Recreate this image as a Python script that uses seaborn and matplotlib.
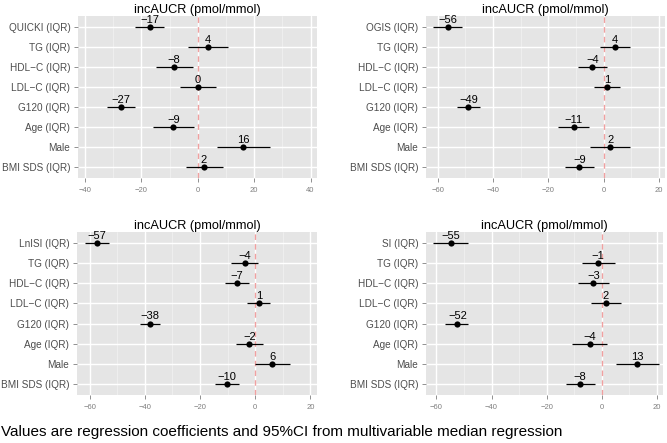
import numpy as np
import pandas as pd
import matplotlib
matplotlib.use('Agg')
import matplotlib.pyplot as plt
import seaborn as sns

# rows, top to bottom
rows_common = ['TG (IQR)', 'HDL\u2212C (IQR)', 'LDL\u2212C (IQR)', 'G120 (IQR)',
               'Age (IQR)', 'Male', 'BMI SDS (IQR)']
first_rows = ['QUICKI (IQR)', 'OGIS (IQR)', 'LnISI (IQR)', 'SI (IQR)']

est_quicki = [-17.1, 3.6, -8.4, 0.0, -27.3, -8.7, 16.0, 2.2]
lo_quicki = [-22.3, -3.3, -14.8, -6.3, -32.2, -15.8, 6.7, -4.3]
hi_quicki = [-11.9, 10.6, -1.8, 6.4, -22.4, -1.5, 25.6, 9.0]

est_ogis = [-56.4, 4.1, -4.1, 1.2, -48.9, -10.9, 2.3, -8.8]
lo_ogis = [-61.8, -1.4, -9.2, -3.4, -53.0, -16.5, -5.0, -14.0]
hi_ogis = [-51.1, 9.4, 1.3, 5.8, -44.7, -5.4, 9.4, -3.7]

est_lnisi = [-57.3, -3.8, -6.6, 1.3, -38.2, -2.1, 6.1, -10.2]
lo_lnisi = [-61.7, -8.6, -10.9, -3.0, -41.8, -7.1, -0.2, -14.6]
hi_lnisi = [-53.0, 1.0, -2.1, 5.5, -34.6, 3.0, 12.7, -5.7]

est_si = [-54.7, -1.3, -3.0, 1.6, -52.4, -4.4, 13.0, -7.8]
lo_si = [-61.1, -7.3, -8.4, -3.8, -56.9, -10.8, 5.4, -13.1]
hi_si = [-48.4, 4.9, 2.6, 7.1, -48.4, 2.0, 21.0, -2.5]

panels = [
    (first_rows[0], est_quicki, lo_quicki, hi_quicki, [-40, -20, 0, 20, 40], (-42.5, 42.3)),
    (first_rows[1], est_ogis, lo_ogis, hi_ogis, [-60, -40, -20, 0, 20], (-64.2, 22.1)),
    (first_rows[2], est_lnisi, lo_lnisi, hi_lnisi, [-60, -40, -20, 0, 20], (-64.6, 22.4)),
    (first_rows[3], est_si, lo_si, hi_si, [-60, -40, -20, 0, 20], (-63.8, 22.3)),
]
title = 'incAUCR (pmol/mmol)'
footnote = 'Values are regression coefficients and 95%CI from multivariable median regression'

sns.set_theme(style='white')
plt.rcParams['font.family'] = ['Liberation Sans', 'DejaVu Sans']

fig = plt.figure(figsize=(6.67, 4.43), dpi=100)
W, H = 667, 443
boxes = [(78, 16, 239, 162), (426, 16, 239, 162), (77, 232, 240, 163), (426, 232, 237, 163)]

for (first, est, lo, hi, ticks, xlim), (x0, y0, w, h) in zip(panels, boxes):
    ax = fig.add_axes([x0 / W, 1 - (y0 + h) / H, w / W, h / H])
    df = pd.DataFrame({'label': [first] + rows_common, 'est': est, 'lo': lo, 'hi': hi})
    ypos = np.arange(len(df))
    ax.set_facecolor('#E5E5E5')
    # minor and major vertical grid
    for t in np.arange(ticks[0] - 10, ticks[-1] + 11, 20):
        ax.axvline(t, color='#F2F2F2', lw=0.5, zorder=0)
    for t in ticks:
        ax.axvline(t, color='white', lw=1.0, zorder=0)
    for y in ypos:
        ax.axhline(y, color='white', lw=1.0, zorder=0)
    ax.axvline(0, color='#F0A0A0', lw=1.0, ls=(0, (4, 3)), zorder=1)
    ax.hlines(ypos, df['lo'], df['hi'], color='black', lw=0.9, zorder=2)
    sns.scatterplot(data=df, x='est', y=ypos, color='black', s=20, edgecolor='black',
                    linewidth=0, zorder=3, ax=ax, legend=False)
    for y, v in zip(ypos, df['est']):
        ax.annotate(str(int(round(v))).replace('-', '\u2212'), (v, y),
                    xytext=(0, 1.5), textcoords='offset points',
                    ha='center', va='bottom', fontsize=8, color='black', zorder=4)
    ax.set_xlim(*xlim)
    ax.set_ylim(len(df) - 0.45, -0.55)
    ax.set_xticks(ticks)
    ax.set_xticklabels([str(t).replace('-', '\u2212') for t in ticks])
    ax.set_yticks(ypos)
    ax.set_yticklabels(df['label'])
    ax.tick_params(axis='x', labelsize=5.5, colors='#7F7F7F', labelcolor='#7F7F7F',
                   length=3, width=0.6, pad=3.5, direction='out', bottom=True)
    ax.tick_params(axis='y', labelsize=7.2, colors='#7F7F7F', labelcolor='#4D4D4D',
                   length=3, width=0.6, pad=2.5, direction='out', left=True)
    for s in ax.spines.values():
        s.set_visible(False)
    ax.set_xlabel('')
    ax.set_ylabel('')
    ax.set_title(title, fontsize=9.2, color='black', pad=2)

fig.text(1 / W, 1 - 432 / H, footnote, fontsize=11, color='black', va='center', ha='left')
fig.savefig('out.png', dpi=100)
